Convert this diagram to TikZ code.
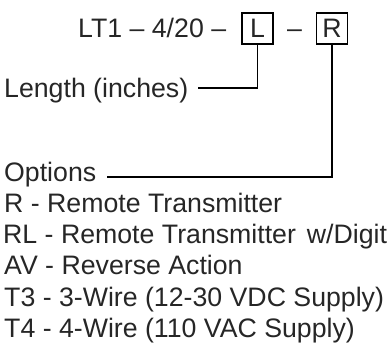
\documentclass[tikz,border=0pt]{standalone}
\usepackage{fontspec}
\setmainfont{Liberation Sans}
\begin{document}
\begin{tikzpicture}[x=1bp,y=-1bp,
  txt/.style={inner sep=0pt,font=\fontsize{26.7bp}{30bp}\selectfont,text=black!85},
  letterbox/.style={draw,line width=1.4bp,minimum width=31bp,minimum height=31bp,inner sep=0pt,font=\fontsize{26.7bp}{30bp}\selectfont,text=black!85},
  lead/.style={line width=1.4bp}]
\useasboundingbox (0,0) rectangle (388,344);
\node[txt,anchor=base west] (title) at (78,37) {LT1 -- 4/20 --};
\node[letterbox] (Lbox) at (257.5,28.5) {L};
\node[txt,anchor=base] (dash) at (294.5,37) {--};
\node[letterbox] (Rbox) at (332,28.5) {R};
\node[txt,anchor=base west] (len) at (4,97) {Length (inches)};
\node[txt,anchor=base west] (opt) at (4,181) {Options};
\node[txt,anchor=base west] (o1) at (4,212.3) {R - Remote Transmitter};
\node[txt,anchor=base west] (o2) at (3,243.6) {RL - Remote Transmitter\hspace{11bp}w/Digit};
\node[txt,anchor=base west] (o3) at (4,274.9) {AV - Reverse Action};
\node[txt,anchor=base west] (o4) at (4,306.2) {T3 - 3-Wire (12-30 VDC Supply)};
\node[txt,anchor=base west] (o5) at (4,337.5) {T4 - 4-Wire (110 VAC Supply)};
\coordinate (lenend) at ([xshift=10bp,yshift=9bp]len.base east);
\coordinate (optend) at ([xshift=11bp,yshift=4bp]opt.base east);
\draw[lead] (Lbox.south) |- (lenend);
\draw[lead] (Rbox.south) |- (optend);
\end{tikzpicture}
\end{document}
